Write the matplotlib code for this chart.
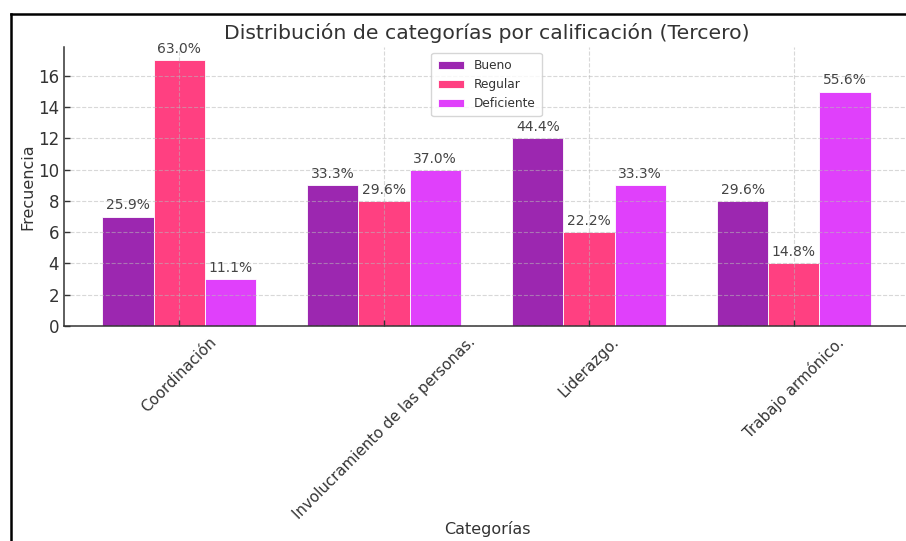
import matplotlib
matplotlib.use('Agg')
from matplotlib import pyplot as plt
import numpy as np

categorias = ['Coordinación', 'Involucramiento de las personas.', 'Liderazgo.', 'Trabajo armónico.']
bueno = [7, 9, 12, 8]
regular = [17, 8, 6, 4]
deficiente = [3, 10, 9, 15]
series = ['Bueno', 'Regular', 'Deficiente']
colores = ['#9C27B0', '#FF4081', '#E040FB']

texto = '#333333'
plt.rcParams['font.family'] = 'DejaVu Sans'

fig = plt.figure(figsize=(9.06, 5.41), dpi=100)
ax = fig.add_axes([64/906, 1-326/541, (909-64)/906, (326-47)/541])

x = np.arange(len(categorias))
ancho = 0.25
totales = np.array(bueno) + np.array(regular) + np.array(deficiente)

for i, (nombre, vals) in enumerate(zip(series, [bueno, regular, deficiente])):
    barras = ax.bar(x + (i-1)*ancho, vals, ancho, label=nombre, color=colores[i],
                    edgecolor='white', linewidth=0.6)
    etiquetas = ['%.1f%%' % (v/t*100) for v, t in zip(vals, totales)]
    ax.bar_label(barras, labels=etiquetas, padding=3, fontsize=10, color='#444444')

ax.set_xlim(-0.5625, 3.5625)
ax.set_ylim(0, 17.85)
ax.set_xticks(x)
ax.set_xticklabels(categorias, rotation=45, ha='center', fontsize=10.8, color=texto)
ax.set_yticks(range(0, 17, 2))
ax.tick_params(axis='y', labelsize=12, labelcolor=texto)
ax.tick_params(axis='x', pad=6)
ax.tick_params(direction='in', length=4, width=1, color='#333333')

ax.set_axisbelow(False)
ax.grid(True, linestyle='--', color='#b8b8b8', alpha=0.55, linewidth=0.8)

for s in ['top', 'right']:
    ax.spines[s].set_visible(False)
for s in ['left', 'bottom']:
    ax.spines[s].set_color('#333333')
    ax.spines[s].set_linewidth(1.1)

ax.set_title('Distribución de categorías por calificación (Tercero)', fontsize=14.7,
             color=texto, pad=6, x=(487-64)/(909-64))
ax.set_ylabel('Frecuencia', fontsize=11.5, color=texto, labelpad=2)
ax.set_xlabel('Categorías', fontsize=11.5, color=texto)
ax.xaxis.set_label_coords((487-64)/(909-64), (326-521)/279)

leg = ax.legend(loc='upper center', fontsize=8.7, frameon=True, borderpad=0.5,
                handlelength=2.2)
leg.get_frame().set_edgecolor('#cccccc')
for t in leg.get_texts():
    t.set_color(texto)

# marco negro en los bordes superior e izquierdo
fig.add_artist(plt.Line2D([11/906, 11/906], [0, 1-14/541], color='black', linewidth=1.8,
                          transform=fig.transFigure))
fig.add_artist(plt.Line2D([11/906, 1], [1-14/541, 1-14/541], color='black', linewidth=1.8,
                          transform=fig.transFigure))

fig.savefig('out.png', dpi=100)
